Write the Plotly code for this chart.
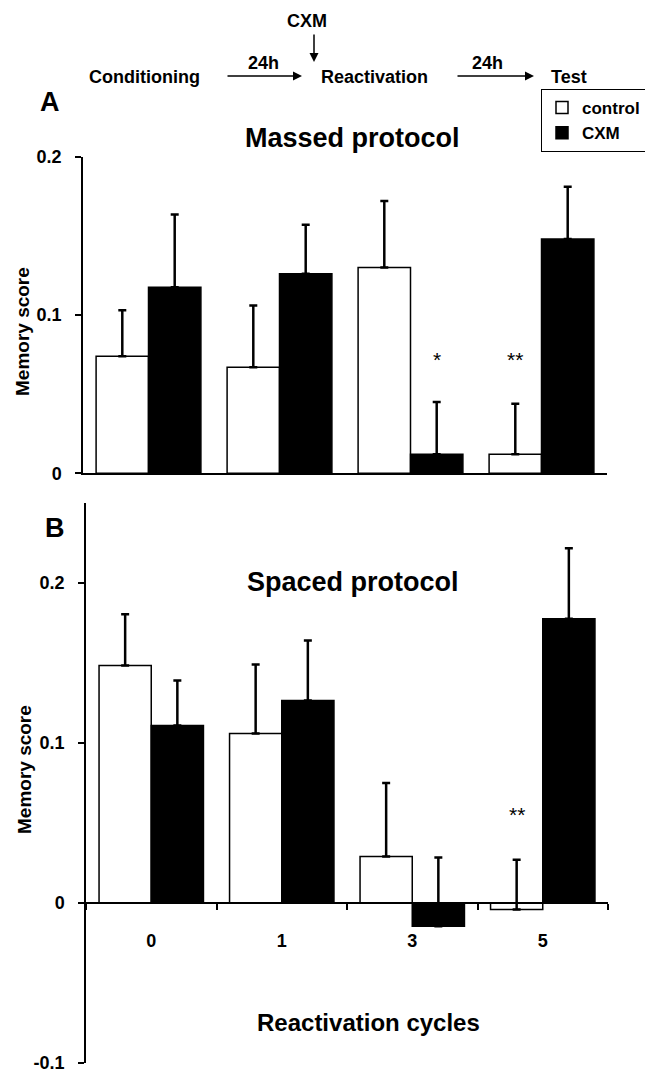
import plotly.graph_objects as go

W, H = 645, 1074

cycles = ["0", "1", "3", "5"]
massed_control = [0.074, 0.067, 0.130, 0.012]
massed_control_err = [0.029, 0.039, 0.042, 0.032]
massed_cxm = [0.1175, 0.126, 0.012, 0.148]
massed_cxm_err = [0.046, 0.031, 0.033, 0.033]
spaced_control = [0.1485, 0.106, 0.029, -0.004]
spaced_control_err = [0.032, 0.043, 0.046, 0.031]
spaced_cxm = [0.111, 0.1265, -0.0145, 0.1777]
spaced_cxm_err = [0.028, 0.0375, 0.043, 0.044]
ticks_a = [0, 0.1, 0.2]
ticks_b = [-0.1, 0, 0.1, 0.2]
# significance marks: (panel, category index, offset side, label, y)
sig_marks = [("A", 2, +1, "*", 0.0716), ("A", 3, -1, "**", 0.072), ("B", 3, -1, "**", 0.0556)]

FONT = "Arial, Liberation Sans, sans-serif"


def px(x):
    return x / W


def py(y):
    return 1 - y / H


def bar(name, x, y, err, color, xa, ya, show):
    return go.Bar(
        name=name, x=x, y=y, xaxis=xa, yaxis=ya, showlegend=show,
        legendgroup=name,
        marker=dict(color=color, line=dict(color="black", width=1.5)),
        error_y=dict(type="data", symmetric=False, array=err,
                     arrayminus=[0] * len(err), color="black",
                     thickness=2.5, width=4),
    )


fig = go.Figure()
fig.add_trace(bar("control", cycles, massed_control, massed_control_err, "white", "x", "y", True))
fig.add_trace(bar("CXM", cycles, massed_cxm, massed_cxm_err, "black", "x", "y", True))
fig.add_trace(bar("control", cycles, spaced_control, spaced_control_err, "white", "x2", "y2", False))
fig.add_trace(bar("CXM", cycles, spaced_cxm, spaced_cxm_err, "black", "x2", "y2", False))

axis_common = dict(showline=True, linecolor="black", linewidth=1.5, showgrid=False,
                   zeroline=False)
tickfont = dict(family=FONT, size=18, color="black", weight="bold")

fig.update_layout(
    width=W, height=H,
    margin=dict(l=0, r=0, t=0, b=0, autoexpand=False),
    paper_bgcolor="white", plot_bgcolor="rgba(0,0,0,0)",
    barmode="group", bargap=0.2, bargroupgap=0,
    font=dict(family=FONT, color="black"),
    xaxis=dict(domain=[px(83), px(607)], anchor="y", range=[-0.5, 3.5],
               showticklabels=False, ticks="", **axis_common),
    yaxis=dict(domain=[py(473.3), py(156.7)], anchor="x", range=[0, 0.2],
               tickvals=ticks_a, ticktext=["0", "0.1", "0.2"],
               ticks="outside", ticklen=6, tickwidth=1.5, tickcolor="black",
               tickfont=tickfont, ticklabelstandoff=10, **axis_common),
    xaxis2=dict(domain=[px(86), px(608)], anchor="free", position=py(903),
                range=[-0.5, 3.5], tickson="boundaries",
                ticks="outside", ticklen=6, tickwidth=1.5, tickcolor="black",
                tickfont=tickfont, ticklabelstandoff=22, **axis_common),
    yaxis2=dict(domain=[py(1063), py(503)], anchor="x2", range=[-0.1, 0.25],
                tickvals=ticks_b, ticktext=["-0.1", "0", "0.1", "0.2"],
                ticks="outside", ticklen=6, tickwidth=1.5, tickcolor="black",
                tickfont=tickfont, ticklabelstandoff=10, **axis_common),
    legend=dict(x=px(541), y=py(89), xanchor="left", yanchor="top",
                bordercolor="black", borderwidth=1, bgcolor="white",
                font=dict(family=FONT, size=17, color="black", weight="bold"),
                tracegroupgap=10, itemwidth=30, traceorder="normal"),
)

ann = []


def text(x, y, s, size, **kw):
    ann.append(dict(x=px(x), y=py(y), xref="paper", yref="paper", text=s,
                    showarrow=False, xanchor="center", yanchor="middle",
                    font=dict(family=FONT, size=size, color="black", weight="bold"), **kw))


def arrow(x0, y0, x1, y1):
    ann.append(dict(x=px(x1), y=py(y1), xref="paper", yref="paper",
                    ax=x0 - x1, ay=y0 - y1, axref="pixel", ayref="pixel",
                    text="", showarrow=True, arrowhead=2, arrowsize=1.2,
                    arrowwidth=1.5, arrowcolor="black"))


# protocol diagram
text(307, 21, "CXM", 18)
arrow(314, 33, 314, 62)
text(144, 77, "Conditioning", 18)
arrow(226, 76, 302, 76)
text(263, 63, "24h", 18)
text(374, 77, "Reactivation", 18)
arrow(456, 76, 534, 76)
text(487, 63, "24h", 18)
text(569, 77, "Test", 18)

# panel labels and titles
text(50, 102, "A", 27)
text(352, 138, "Massed protocol", 27)
text(55, 528, "B", 27)
text(353, 582, "Spaced protocol", 27)
text(22, 332, "Memory score", 19, textangle=-90)
text(24, 770, "Memory score", 19, textangle=-90)
text(368, 1022, "Reactivation cycles", 24)

# significance marks (in data coordinates)
for panel, idx, side, lab, yv in sig_marks:
    ann.append(dict(x=idx + side * 0.2, y=yv,
                    xref="x" if panel == "A" else "x2",
                    yref="y" if panel == "A" else "y2",
                    text=lab, showarrow=False, xanchor="center", yanchor="middle",
                    font=dict(family=FONT, size=21, color="black")))

fig.update_layout(annotations=ann)
fig.write_html("out.html")
